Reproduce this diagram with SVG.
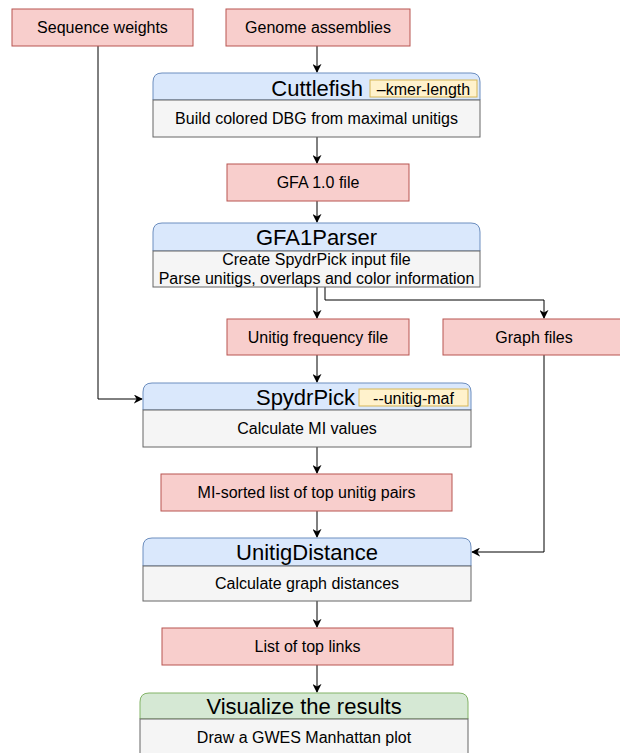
<svg xmlns="http://www.w3.org/2000/svg" width="620" height="753" viewBox="0 0 620 753">
<style>
text{font-family:"Liberation Sans",Arial,sans-serif;fill:#000;dominant-baseline:central;text-anchor:middle}
.red{fill:#f8cecc;stroke:#b85450;stroke-width:1}
.hdr{fill:#dae8fc;stroke:#6c8ebf;stroke-width:1}
.grn{fill:#d5e8d4;stroke:#82b366;stroke-width:1}
.body{fill:#f5f5f5;stroke:#666666;stroke-width:1}
.tag{fill:#fff2cc;stroke:#d6b656;stroke-width:1}
.lbl{font-size:16px}
.ttl{font-size:22px}
.tg{font-size:16px}
.edge{fill:none;stroke:#000;stroke-width:1}
</style>
<defs>
<marker id="arr" viewBox="0 0 10 10" refX="9" refY="5" markerWidth="9" markerHeight="9" markerUnits="userSpaceOnUse" orient="auto">
<path d="M0,0 L10,5 L0,10 L3,5 Z" fill="#000"/>
</marker>
</defs>
<g id="connectors">
<path class="edge" d="M98,46 V399 H142" marker-end="url(#arr)"/>
<path class="edge" d="M317,46 V72" marker-end="url(#arr)"/>
<path class="edge" d="M317,137 V163" marker-end="url(#arr)"/>
<path class="edge" d="M317,201 V222" marker-end="url(#arr)"/>
<path class="edge" d="M317,287 V318" marker-end="url(#arr)"/>
<path class="edge" d="M325,287 V300 H544 V318" marker-end="url(#arr)"/>
<path class="edge" d="M317,355 V382" marker-end="url(#arr)"/>
<path class="edge" d="M544,355 V552 H472" marker-end="url(#arr)"/>
<path class="edge" d="M317,447 V473" marker-end="url(#arr)"/>
<path class="edge" d="M317,511 V537" marker-end="url(#arr)"/>
<path class="edge" d="M317,601 V627" marker-end="url(#arr)"/>
<path class="edge" d="M317,665 V692" marker-end="url(#arr)"/>
</g>
<g id="seqweights">
<rect class="red" x="12" y="9" width="181" height="37"/>
<text class="lbl" x="102.5" y="27.5">Sequence weights</text>
</g>
<g id="genome">
<rect class="red" x="226" y="9" width="184" height="37"/>
<text class="lbl" x="318" y="27.5">Genome assemblies</text>
</g>
<g id="cuttlefish">
<path class="hdr" d="M153,100 V82 Q153,73 162,73 H471 Q480,73 480,82 V100 Z"/>
<rect class="body" x="153" y="100" width="327" height="37"/>
<text class="ttl" x="363" y="88" style="text-anchor:end">Cuttlefish</text>
<rect class="tag" x="370" y="80" width="107" height="17"/>
<text class="tg" x="423.5" y="89">–kmer-length</text>
<text class="lbl" x="316.5" y="118.5">Build colored DBG from maximal unitigs</text>
</g>
<g id="gfa">
<rect class="red" x="227" y="164" width="182" height="37"/>
<text class="lbl" x="318" y="182.5">GFA 1.0 file</text>
</g>
<g id="gfa1parser">
<path class="hdr" d="M153,251 V232 Q153,223 162,223 H471 Q480,223 480,232 V251 Z"/>
<rect class="body" x="153" y="251" width="327" height="36"/>
<text class="ttl" x="316.5" y="237">GFA1Parser</text>
<text class="lbl" x="316.5" y="259.5">Create SpydrPick input file</text>
<text class="lbl" x="316.5" y="278">Parse unitigs, overlaps and color information</text>
</g>
<g id="unitigfreq">
<rect class="red" x="227" y="319" width="182" height="36"/>
<text class="lbl" x="318" y="337">Unitig frequency file</text>
</g>
<g id="graphfiles">
<rect class="red" x="443" y="319" width="182" height="36"/>
<text class="lbl" x="534" y="337">Graph files</text>
</g>
<g id="spydrpick">
<path class="hdr" d="M143,410 V392 Q143,383 152,383 H462 Q471,383 471,392 V410 Z"/>
<rect class="body" x="143" y="410" width="328" height="37"/>
<text class="ttl" x="355" y="397" style="text-anchor:end">SpydrPick</text>
<rect class="tag" x="359" y="389" width="109" height="17"/>
<text class="tg" x="413.5" y="398">--unitig-maf</text>
<text class="lbl" x="307" y="428.5">Calculate MI values</text>
</g>
<g id="misorted">
<rect class="red" x="161" y="474" width="291" height="37"/>
<text class="lbl" x="306.5" y="492.5">MI-sorted list of top unitig pairs</text>
</g>
<g id="unitigdistance">
<path class="hdr" d="M143,566 V547 Q143,538 152,538 H462 Q471,538 471,547 V566 Z"/>
<rect class="body" x="143" y="566" width="328" height="35"/>
<text class="ttl" x="307" y="552">UnitigDistance</text>
<text class="lbl" x="307" y="583">Calculate graph distances</text>
</g>
<g id="toplinks">
<rect class="red" x="162" y="628" width="291" height="37"/>
<text class="lbl" x="307.5" y="646.5">List of top links</text>
</g>
<g id="visualize">
<path class="grn" d="M140,719 V702 Q140,693 149,693 H459 Q468,693 468,702 V719 Z"/>
<rect class="body" x="140" y="719" width="328" height="40"/>
<text class="ttl" x="304" y="706">Visualize the results</text>
<text class="lbl" x="304" y="737">Draw a GWES Manhattan plot</text>
</g>
</svg>
